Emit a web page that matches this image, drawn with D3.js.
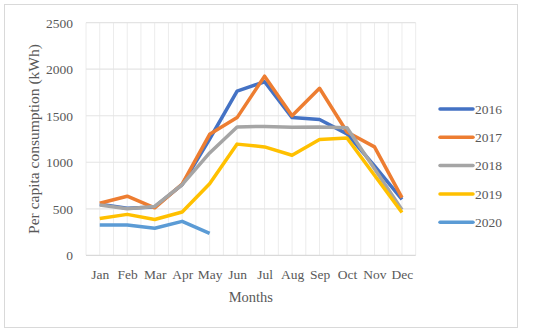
<!DOCTYPE html>
<html>
<head>
<meta charset="utf-8">
<script src="https://cdn.jsdelivr.net/npm/d3@7"></script>
<style>
  body { margin: 0; background: #fff; }
  text { font-family: "Liberation Serif", "Times New Roman", serif; fill: #595959; }
</style>
</head>
<body>
<div id="chart"></div>
<script>
// Data
const months = ['Jan', 'Feb', 'Mar', 'Apr', 'May', 'Jun', 'Jul', 'Aug', 'Sep', 'Oct', 'Nov', 'Dec'];
const years = ['2016', '2017', '2018', '2019', '2020'];
const values2016 = [550, 505, 520, 760, 1250, 1765, 1865, 1480, 1460, 1305, 960, 600];
const values2017 = [560, 635, 510, 765, 1300, 1480, 1925, 1500, 1795, 1325, 1165, 620];
const values2018 = [540, 500, 525, 760, 1100, 1380, 1385, 1375, 1380, 1370, 930, 490];
const values2019 = [395, 440, 385, 465, 770, 1195, 1165, 1075, 1245, 1260, 860, 460];
const values2020 = [325, 325, 290, 365, 235];
const yTicks = [0, 500, 1000, 1500, 2000, 2500];

const colors = ['#4472C4', '#ED7D31', '#A5A5A5', '#FFC000', '#5B9BD5'];

const series = [values2016, values2017, values2018, values2019, values2020].map((vals, i) => ({
  name: years[i],
  color: colors[i],
  values: vals.map((v, j) => ({ month: months[j], value: v }))
}));

const width = 550, height = 333;
const margin = { top: 22.7, right: 134.3, bottom: 77.7, left: 86 };
const innerW = width - margin.left - margin.right;
const innerH = height - margin.top - margin.bottom;

const svg = d3.select('#chart').append('svg')
  .attr('width', width)
  .attr('height', height);

// Outer frame of the chart
svg.append('rect')
  .attr('x', 4.5).attr('y', 4.5)
  .attr('width', 513).attr('height', 323)
  .attr('fill', '#fff')
  .attr('stroke', '#d9d9d9');

const chart = svg.append('g')
  .attr('transform', `translate(${margin.left},${margin.top})`);

// Scales
const x = d3.scalePoint().domain(months).range([0, innerW]).padding(0.5);
const y = d3.scaleLinear().domain([0, 2500]).range([innerH, 0]);

// Vertical gridlines: category boundaries and centres
const half = x.step() / 2;
chart.append('g')
  .selectAll('line')
  .data(d3.range(months.length * 2 + 1))
  .join('line')
  .attr('x1', d => d * half).attr('x2', d => d * half)
  .attr('y1', 0).attr('y2', innerH)
  .attr('stroke', '#ececec');

// Horizontal gridlines
chart.append('g')
  .selectAll('line')
  .data(yTicks)
  .join('line')
  .attr('x1', 0).attr('x2', innerW)
  .attr('y1', d => y(d)).attr('y2', d => y(d))
  .attr('stroke', d => d === 0 ? '#d9d9d9' : '#e4e4e4')
  .attr('stroke-width', 1.2);

// Axes (labels only)
const yAxisG = chart.append('g')
  .call(d3.axisLeft(y).tickValues(yTicks).tickFormat(d3.format('d')).tickSize(0).tickPadding(13));
yAxisG.select('.domain').remove();
yAxisG.selectAll('text').style('font-size', '13.5px').attr('fill', '#595959');

const xAxisG = chart.append('g')
  .attr('transform', `translate(0,${innerH})`)
  .call(d3.axisBottom(x).tickSize(0).tickPadding(14.5));
xAxisG.select('.domain').remove();
xAxisG.selectAll('text').style('font-size', '13.5px').attr('fill', '#595959');

// Axis titles
chart.append('text')
  .attr('x', innerW / 2)
  .attr('y', innerH + 47)
  .attr('text-anchor', 'middle')
  .style('font-size', '14.5px')
  .text('Months');

chart.append('text')
  .attr('transform', `translate(${39 - margin.left},${innerH / 2}) rotate(-90)`)
  .attr('text-anchor', 'middle')
  .style('font-size', '15.5px')
  .text('Per capita consumption (kWh)');

// Lines
const line = d3.line()
  .x(d => x(d.month))
  .y(d => y(d.value));

chart.append('g')
  .selectAll('path')
  .data(series)
  .join('path')
  .attr('fill', 'none')
  .attr('stroke', d => d.color)
  .attr('stroke-width', 3.5)
  .attr('stroke-linejoin', 'round')
  .attr('d', d => line(d.values));

// Legend
const legend = svg.append('g')
  .selectAll('g')
  .data(series)
  .join('g')
  .attr('transform', (d, i) => `translate(440,${109 + i * 28.3})`);

legend.append('line')
  .attr('x1', 0).attr('x2', 33)
  .attr('stroke', d => d.color)
  .attr('stroke-width', 3.5)
  .attr('stroke-linecap', 'round');

legend.append('text')
  .attr('x', 35)
  .attr('dy', '0.35em')
  .style('font-size', '13.5px')
  .text(d => d.name);
</script>
</body>
</html>
